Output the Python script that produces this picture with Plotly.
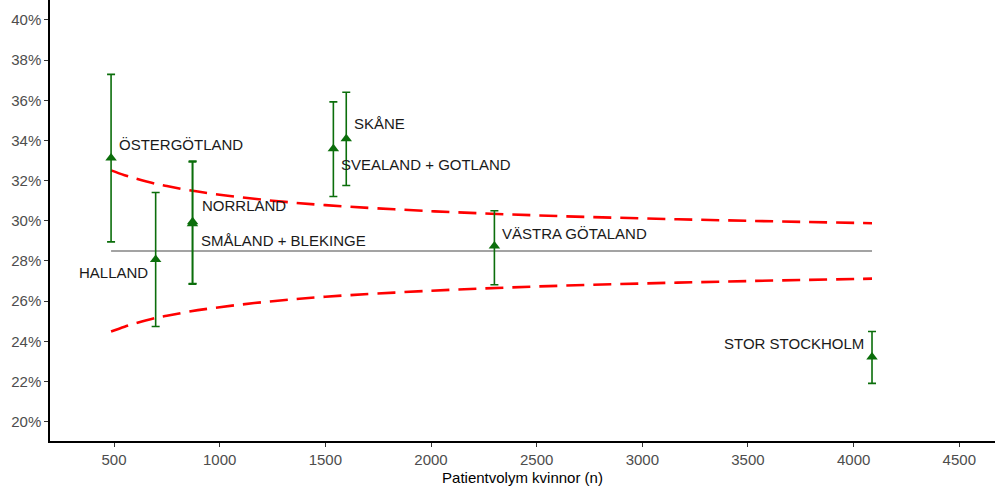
import plotly.graph_objects as go

regions = ["ÖSTERGÖTLAND", "HALLAND", "NORRLAND", "SMÅLAND + BLEKINGE",
           "SVEALAND + GOTLAND", "SKÅNE", "VÄSTRA GÖTALAND", "STOR STOCKHOLM"]
n_patients = [486, 697, 872, 871, 1538, 1599, 2300, 4087]
rate = [33.13, 28.07, 29.95, 29.85, 33.59, 34.09, 28.74, 23.22]
ci_upper = [37.29, 31.41, 32.97, 32.93, 35.92, 36.40, 30.50, 24.49]
ci_lower = [28.95, 24.74, 26.88, 26.85, 31.21, 31.76, 26.82, 21.91]

# label placement: (xanchor, xshift, yshift)
label_pos = [("left", 6, 13), ("right", -6, -13), ("left", 7, 16), ("left", 7, -17),
             ("left", 6, -16), ("left", 6, 15), ("left", 6, 13), ("right", -6, 14)]

mean_rate = 28.5
funnel_n = [486, 550, 600, 700, 750, 850, 1000, 1250, 1500, 2000, 2500, 3000, 3500, 4087]
funnel_upper = [32.51, 32.27, 32.11, 31.83, 31.73, 31.53, 31.30, 31.00, 30.78, 30.48, 30.27, 30.12, 30.00, 29.88]
funnel_lower = [24.49, 24.73, 24.89, 25.17, 25.27, 25.47, 25.70, 26.00, 26.22, 26.52, 26.73, 26.88, 27.00, 27.12]

x_ticks = [500, 1000, 1500, 2000, 2500, 3000, 3500, 4000, 4500]
y_ticks = [20, 22, 24, 26, 28, 30, 32, 34, 36, 38, 40]
y_tick_labels = [f"{v}%" for v in y_ticks]

green = "#0b6e0b"
fig = go.Figure()

fig.add_trace(go.Scatter(x=[min(n_patients), max(n_patients)], y=[mean_rate, mean_rate],
                         mode="lines", line=dict(color="#a3a3a3", width=2), hoverinfo="skip"))
fig.add_trace(go.Scatter(x=funnel_n, y=funnel_upper, mode="lines",
                         line=dict(color="#ff0000", width=2.6, dash="18px,9px", shape="spline")))
fig.add_trace(go.Scatter(x=funnel_n, y=funnel_lower, mode="lines",
                         line=dict(color="#ff0000", width=2.6, dash="18px,9px", shape="spline")))

fig.add_trace(go.Scatter(
    x=n_patients, y=rate, mode="markers",
    marker=dict(symbol="triangle-up", size=10, color=green),
    error_y=dict(type="data", symmetric=False,
                 array=[u - r for u, r in zip(ci_upper, rate)],
                 arrayminus=[r - l for r, l in zip(rate, ci_lower)],
                 color=green, thickness=1.6, width=4),
    text=regions))

for name, x, y, (xa, xs, ys) in zip(regions, n_patients, rate, label_pos):
    fig.add_annotation(x=x, y=y, text=name, showarrow=False, xanchor=xa, yanchor="middle",
                       xshift=xs, yshift=ys,
                       font=dict(family="Liberation Sans, Arial", size=15, color="#1a1a1a"))

fig.update_layout(
    width=995, height=486, showlegend=False,
    margin=dict(l=50, r=0, t=0, b=43),
    plot_bgcolor="white", paper_bgcolor="white",
    font=dict(family="Liberation Sans, Arial"),
)
fig.update_xaxes(range=[197, 4669], tickvals=x_ticks, showgrid=False, zeroline=False,
                 showline=True, linecolor="black", linewidth=1.5,
                 ticks="outside", ticklen=4, tickcolor="#333333",
                 tickfont=dict(size=15, color="#4d4d4d"),
                 title=dict(text="Patientvolym kvinnor (n)", font=dict(size=15, color="black"), standoff=8))
fig.update_yaxes(range=[19.04, 40.99], tickmode="array", tickvals=y_ticks, ticktext=y_tick_labels,
                 showgrid=False, zeroline=False,
                 showline=True, linecolor="black", linewidth=1.5,
                 ticks="outside", ticklen=4, tickcolor="#333333",
                 tickfont=dict(size=15, color="#4d4d4d"))

fig.write_html("out.html")
